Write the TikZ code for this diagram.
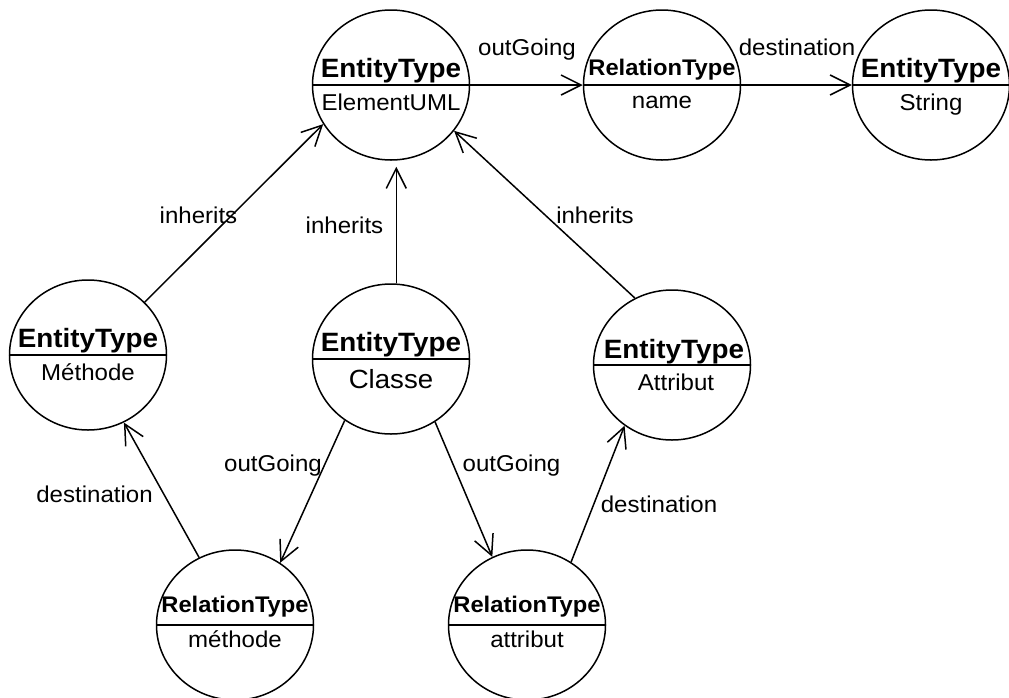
\documentclass[tikz,border=0pt]{standalone}
\usepackage{fontspec}
\setmainfont{Liberation Sans}[FakeStretch=1.05]
\usetikzlibrary{shapes.geometric,arrows.meta}

\begin{document}
\begin{tikzpicture}[x=1pt,y=-1pt,
  obj/.style={draw, ellipse, minimum width=157pt, minimum height=150pt,
              inner sep=0pt, line width=1.5pt},
  divider/.style={line width=1.5pt},
  kindtext/.style={font=\bfseries\fontsize{26.5}{28}\selectfont, anchor=base, inner sep=0pt},
  reltext/.style={font=\bfseries\fontsize{22.6}{24}\selectfont, anchor=base, inner sep=0pt},
  valtext/.style={font=\fontsize{22.9}{24}\selectfont, anchor=base, inner sep=0pt},
  bigval/.style={font=\fontsize{26.3}{28}\selectfont, anchor=base, inner sep=0pt},
  lbl/.style={font=\fontsize{22.9}{24}\selectfont, anchor=base, inner sep=0pt},
  link/.style={line width=1.5pt, -{Straight Barb[length=20pt,width=20pt]}},
]
\useasboundingbox (0,0) rectangle (1009,697);

% ---- objects ----
\node[obj] (E)  at (391,85)  {};
\node[obj] (N)  at (662,85)  {};
\node[obj] (S)  at (931,85)  {};
\node[obj] (M)  at (88,355)  {};
\node[obj] (C)  at (391,359) {};
\node[obj] (A)  at (672,365) {};
\node[obj] (RM) at (235,625) {};
\node[obj] (RA) at (527,625) {};

% dividers between type and name
\foreach \o in {E,N,S,M,C,A,RM,RA}
  \draw[divider] (\o.west) -- (\o.east);

% ---- texts inside the objects ----
\node[kindtext] (E-k) at ([yshift=8pt]E.center)   {EntityType};
\node[valtext]  (E-v) at ([yshift=-25pt]E.center) {ElementUML};
\node[reltext]  (N-k) at ([yshift=10pt]N.center)  {RelationType};
\node[valtext]  (N-v) at ([yshift=-23pt]N.center) {name};
\node[kindtext] (S-k) at ([yshift=8pt]S.center)   {EntityType};
\node[valtext]  (S-v) at ([yshift=-25pt]S.center) {String};
\node[kindtext] (M-k) at ([yshift=7.5pt]M.center) {EntityType};
\node[valtext]  (M-v) at ([yshift=-25pt]M.center) {Méthode};
\node[kindtext] (C-k) at ([yshift=7.5pt]C.center) {EntityType};
\node[bigval]   (C-v) at ([yshift=-29pt]C.center) {Classe};
\node[kindtext] (A-k) at ([xshift=2pt,yshift=7pt]A.center) {EntityType};
\node[valtext]  (A-v) at ([xshift=4pt,yshift=-25pt]A.center) {Attribut};
\node[reltext]  (RM-k) at ([yshift=13pt]RM.center)  {RelationType};
\node[valtext]  (RM-v) at ([yshift=-22pt]RM.center) {méthode};
\node[reltext]  (RA-k) at ([yshift=13pt]RA.center)  {RelationType};
\node[valtext]  (RA-v) at ([yshift=-22pt]RA.center) {attribut};

% ---- connectors ----
\draw[link] (E.east) -- (N.west);
\draw[link] (N.east) -- (S.west);
\draw[link] (M.43.7) -- (E.210.5);
\draw[link, shorten >=6pt] (C.86.6) -- (C.86.6 |- E.south);
\draw[link] (A.119.5) -- (E.324.4);
\draw[link] (C.233.7) -- (RM.54.7);
\draw[link] (C.305.6) -- (RA.117.9);
\draw[link] (RM.118.9) -- (M.298.5);
\draw[link] (RA.55.8) -- (A.232.9);

% ---- connector labels ----
\node[lbl] (l-out1)  at (527,55)    {outGoing};
\node[lbl] (l-dst1)  at (797,55)    {destination};
\node[lbl] (l-inh1)  at (198.5,223) {inherits};
\node[lbl] (l-inh2)  at (344.5,233) {inherits};
\node[lbl] (l-inh3)  at (595,223)   {inherits};
\node[lbl] (l-out2)  at (273,471)   {outGoing};
\node[lbl] (l-out3)  at (511.5,471) {outGoing};
\node[lbl] (l-dst2)  at (94.5,502)  {destination};
\node[lbl] (l-dst3)  at (659,512)   {destination};
\end{tikzpicture}
\end{document}
